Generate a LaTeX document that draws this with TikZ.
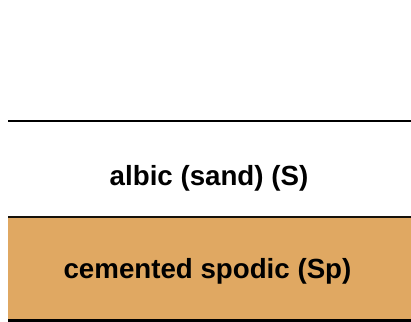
\documentclass[tikz,border=0pt]{standalone}
\usepackage{fontspec}
\setmainfont{Liberation Sans}
\definecolor{spodic}{HTML}{E0A862}
\tikzset{
  horizon/.style={line width=2.6pt, draw=black},
  label/.style={font=\bfseries\fontsize{27.7}{30}\selectfont, anchor=base, inner sep=0pt}
}
\begin{document}
\begin{tikzpicture}[x=1pt, y=-1pt]
  \useasboundingbox (0,0) rectangle (411,321);
  % cemented spodic layer
  \fill[spodic] (8,218) rectangle (411,320);
  % horizon boundaries
  \draw[horizon] (8,121) -- (411,121);
  \draw[horizon, draw=black!90!spodic] (8,217) -- (411,217);
  \draw[horizon] (8,320.5) -- (411,320.5);
  % layer labels
  \node[label] (albic) at (209,185.7) {albic (sand) (S)};
  \node[label] (spodic) at (207.5,278) {cemented spodic (Sp)};
\end{tikzpicture}
\end{document}
